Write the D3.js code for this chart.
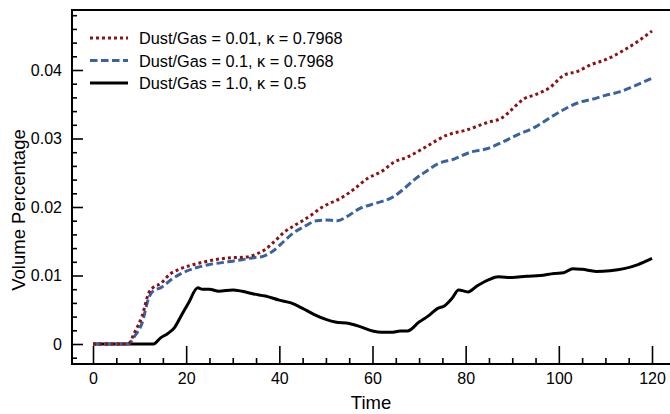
<!DOCTYPE html>
<html>
<head>
<meta charset="utf-8">
<script src="https://cdn.jsdelivr.net/npm/d3@7"></script>
<style>
  html, body { margin: 0; padding: 0; background: #fff; }
  svg { display: block; font-family: 'Liberation Sans', Arial, Helvetica, sans-serif; }
</style>
</head>
<body>
<div id="chart"></div>
<script>
// Dust/Gas = 0.01, kappa = 0.7968
const timeLow = [0, 7.5, 9, 10.5, 12, 13, 14.5, 16.5, 18.5, 21, 24, 27, 30, 33, 35, 37, 39, 41, 43, 45, 47, 49, 51, 53, 56, 59, 62, 64.5, 67.5, 70, 72, 76, 80, 84.5, 88, 90, 92.5, 95, 98, 101, 104, 107, 110, 114, 117, 120]
const volLow = [0, 0, 0.0018, 0.004, 0.0075, 0.0083, 0.0088, 0.0102, 0.0109, 0.0115, 0.012, 0.0124, 0.0126, 0.0127, 0.0131, 0.0138, 0.015, 0.0163, 0.0172, 0.018, 0.0189, 0.0199, 0.0206, 0.0212, 0.0226, 0.0242, 0.0252, 0.0265, 0.0273, 0.0282, 0.029, 0.0305, 0.0312, 0.0323, 0.0331, 0.0343, 0.0358, 0.0364, 0.0374, 0.0392, 0.0398, 0.0408, 0.0415, 0.0429, 0.0442, 0.0457]

// Dust/Gas = 0.1, kappa = 0.7968
const timeMid = [0, 7.5, 9, 10.5, 12, 13, 14.5, 17, 19, 21.5, 25, 29, 32, 34.5, 36.5, 38.5, 41, 43, 45.5, 48, 50, 52.5, 54.5, 57, 61, 64.5, 67, 69, 71.5, 74, 77.5, 81, 84.5, 88, 91, 95, 98, 101, 104.5, 107, 110, 113, 116, 120]
const volMid = [0, 0, 0.0012, 0.003, 0.0068, 0.0078, 0.0082, 0.0095, 0.0103, 0.011, 0.0116, 0.012, 0.0123, 0.0126, 0.0128, 0.0135, 0.015, 0.0162, 0.0172, 0.018, 0.0181, 0.018, 0.0186, 0.0197, 0.0206, 0.0215, 0.0228, 0.024, 0.0252, 0.0263, 0.027, 0.028, 0.0285, 0.0295, 0.0305, 0.0317, 0.033, 0.0342, 0.0353, 0.0357, 0.0363, 0.0368, 0.0376, 0.0388]

// Dust/Gas = 1.0, kappa = 0.5
const timeHigh = [0, 13, 14.5, 16, 17.5, 19, 20.5, 22.5, 23.5, 25, 27, 30, 32, 34.5, 37, 40, 42.5, 45, 47.5, 50, 52, 55, 57.5, 60, 62, 64, 66, 67.5, 70, 72, 74, 75.5, 77, 78.5, 80.5, 82.5, 85, 87, 90, 93, 96, 99, 101, 103, 105, 108, 111, 114, 117, 120]
const volHigh = [0, 0, 0.0009, 0.0015, 0.0024, 0.0042, 0.006, 0.0082, 0.008, 0.008, 0.0077, 0.0079, 0.0077, 0.0073, 0.007, 0.0064, 0.006, 0.0052, 0.0043, 0.0036, 0.0032, 0.003, 0.0025, 0.0019, 0.0017, 0.0017, 0.0019, 0.0019, 0.0032, 0.0041, 0.0052, 0.0056, 0.0066, 0.0079, 0.0076, 0.0085, 0.0094, 0.0098, 0.0097, 0.0099, 0.01, 0.0103, 0.0104, 0.011, 0.0109, 0.0106, 0.0107, 0.011, 0.0116, 0.0125]

const seriesNames = ['Dust/Gas = 0.01, κ = 0.7968', 'Dust/Gas = 0.1, κ = 0.7968', 'Dust/Gas = 1.0, κ = 0.5']

const xMajor = [0, 20, 40, 60, 80, 100, 120]
const xMinor = [5, 10, 15, 25, 30, 35, 45, 50, 55, 65, 70, 75, 85, 90, 95, 105, 110, 115]
const yMajor = [0, 0.01, 0.02, 0.03, 0.04]
const yMinor = [-0.002, 0.002, 0.004, 0.006, 0.008, 0.012, 0.014, 0.016, 0.018, 0.022, 0.024, 0.026, 0.028, 0.032, 0.034, 0.036, 0.038, 0.042, 0.044, 0.046, 0.048]

const width = 670
const height = 414
const frame = { left: 72, top: 10, right: 672, bottom: 364 }

const styles = [
  { color: '#8a1414', dash: '3,3', width: 3 },
  { color: '#3862a2', dash: '7.5,3.5', width: 3 },
  { color: '#000000', dash: null, width: 3 }
]

const x = d3.scaleLinear().domain([0, 120]).range([93, 652])
const y = d3.scaleLinear().domain([0, 0.04]).range([344, 70])

const svg = d3.select('#chart').append('svg')
  .attr('width', width)
  .attr('height', height)

svg.append('defs').append('clipPath')
  .attr('id', 'plot-clip')
  .append('rect')
  .attr('x', frame.left)
  .attr('y', frame.top)
  .attr('width', frame.right - frame.left)
  .attr('height', frame.bottom - frame.top)

const line = d3.line()
  .x(d => x(d[0]))
  .y(d => y(d[1]))
  .curve(d3.curveMonotoneX)

const series = [
  d3.zip(timeLow, volLow),
  d3.zip(timeMid, volMid),
  d3.zip(timeHigh, volHigh)
]

const plot = svg.append('g').attr('clip-path', 'url(#plot-clip)')

// draw black first so the dashed ones sit on top like in the original
;[2, 1, 0].forEach(i => {
  plot.append('path')
    .datum(series[i])
    .attr('fill', 'none')
    .attr('stroke', styles[i].color)
    .attr('stroke-width', styles[i].width)
    .attr('stroke-dasharray', styles[i].dash)
    .attr('stroke-linejoin', 'round')
    .attr('d', line)
})

// ticks point inward
const xAxisMajor = g => g
  .attr('transform', `translate(0,${frame.bottom})`)
  .call(d3.axisBottom(x).tickValues(xMajor).tickSize(-18).tickPadding(9).tickFormat(d3.format('d')))

const xAxisMinor = g => g
  .attr('transform', `translate(0,${frame.bottom})`)
  .call(d3.axisBottom(x).tickValues(xMinor).tickSize(-6).tickFormat(''))

const yAxisMajor = g => g
  .attr('transform', `translate(${frame.left},0)`)
  .call(d3.axisLeft(y).tickValues(yMajor).tickSize(-11).tickPadding(10).tickFormat(d => d === 0 ? '0' : d3.format('.2f')(d)))

const yAxisMinor = g => g
  .attr('transform', `translate(${frame.left},0)`)
  .call(d3.axisLeft(y).tickValues(yMinor).tickSize(-5).tickFormat(''))

;[xAxisMajor, xAxisMinor, yAxisMajor, yAxisMinor].forEach(ax => {
  const g = svg.append('g').call(ax)
  g.select('.domain').remove()
  g.selectAll('.tick line').attr('stroke', '#000').attr('stroke-width', 1.6)
  g.selectAll('.tick text')
    .attr('fill', '#000')
    .style('font-size', '16px')
    .style('font-family', "'Liberation Sans', Arial, sans-serif")
})

// frame
svg.append('rect')
  .attr('x', frame.left)
  .attr('y', frame.top)
  .attr('width', frame.right - frame.left)
  .attr('height', frame.bottom - frame.top)
  .attr('fill', 'none')
  .attr('stroke', '#000')
  .attr('stroke-width', 2)

// axis titles
svg.append('text')
  .attr('x', (frame.left + width) / 2)
  .attr('y', 409)
  .attr('text-anchor', 'middle')
  .style('font-size', '18.5px')
  .text('Time')

svg.append('text')
  .attr('transform', 'translate(25,210) rotate(-90)')
  .attr('text-anchor', 'middle')
  .style('font-size', '18.5px')
  .text('Volume Percentage')

// legend
const legend = svg.append('g')
seriesNames.forEach((name, i) => {
  const ly = 38 + i * 22.5
  legend.append('line')
    .attr('x1', 90).attr('x2', 128)
    .attr('y1', ly).attr('y2', ly)
    .attr('stroke', styles[i].color)
    .attr('stroke-width', styles[i].width)
    .attr('stroke-dasharray', styles[i].dash)
  legend.append('text')
    .attr('x', 139)
    .attr('y', ly + 6)
    .style('font-size', '16.3px')
    .text(name)
})
</script>
</body>
</html>
